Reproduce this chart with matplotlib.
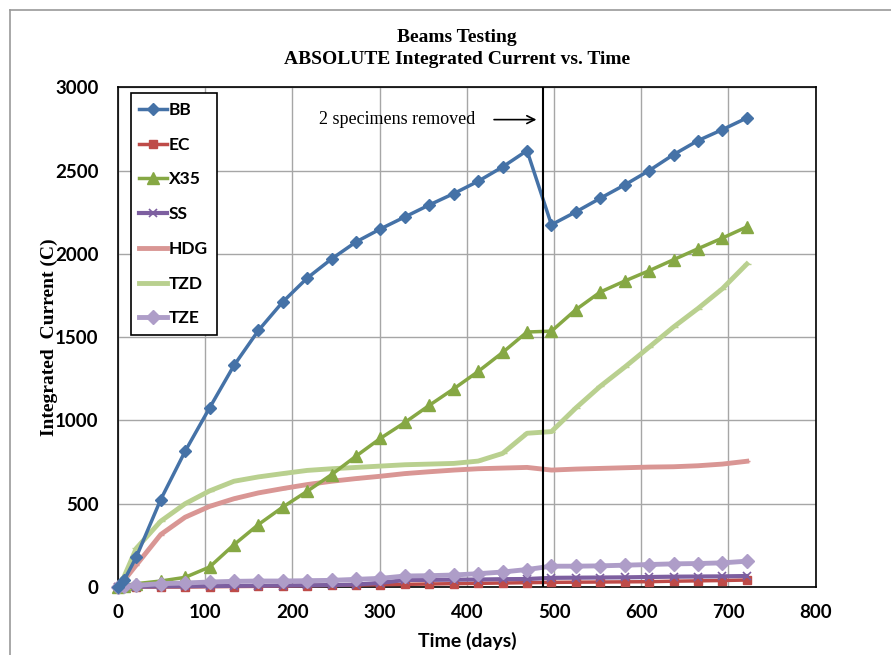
import matplotlib
matplotlib.use('Agg')
import matplotlib.pyplot as plt
from matplotlib.lines import Line2D

# Sampling days (28-day spacing after day 21)
days = [0, 7, 21, 49, 77, 105, 133, 161, 189, 217, 245, 273, 301, 329,
        357, 385, 413, 441, 469, 497, 525, 553, 581, 609, 637, 665, 693, 721]

# Integrated current (C) per series
bb = [0, 40, 180, 525, 815, 1075, 1330, 1540, 1712, 1855, 1970, 2072, 2150, 2222,
      2294, 2362, 2436, 2522, 2620, 2175, 2252, 2334, 2414, 2500, 2596, 2680, 2746, 2816]
ec = [0, 0, 0, 0, 0, 2, 3, 4, 6, 8, 10, 12, 14, 16,
      18, 20, 22, 24, 26, 28, 29, 30, 31, 32, 35, 37, 39, 42]
x35 = [0, 8, 20, 36, 58, 120, 254, 375, 480, 575, 675, 786, 893, 988,
       1091, 1190, 1294, 1408, 1531, 1536, 1665, 1771, 1837, 1899, 1965, 2031, 2095, 2162]
ss = [0, 0, 2, 4, 5, 6, 7, 8, 9, 10, 12, 15, 25, 42,
      43, 44, 45, 47, 48, 55, 56, 57, 58, 60, 62, 63, 64, 66]
hdg = [0, 40, 132, 315, 419, 484, 530, 565, 591, 615, 635, 651, 665, 681,
       692, 702, 710, 714, 718, 702, 708, 712, 716, 720, 722, 728, 738, 755]
tzd = [0, 62, 232, 395, 500, 577, 635, 661, 681, 700, 710, 718, 726, 734,
       738, 742, 756, 802, 923, 933, 1075, 1205, 1320, 1440, 1561, 1672, 1791, 1939]
tze = [0, 5, 10, 20, 24, 30, 34, 36, 36, 38, 40, 46, 52, 66,
       68, 72, 80, 90, 105, 125, 125, 127, 131, 135, 139, 141, 145, 155]

removal_day = 487

serif = 'Liberation Serif'
sans = 'Lato'

fig = plt.figure(figsize=(8.91, 6.55), dpi=100)
ax = fig.add_axes([0.1324, 0.1038, 0.7831, 0.7629])

# outer chart border (left and top only visible)
fig.add_artist(Line2D([9.5 / 891, 9.5 / 891], [0, 1 - 10 / 655], color='#9a9a9a', lw=1.2,
                      transform=fig.transFigure))
fig.add_artist(Line2D([9.5 / 891, 1], [1 - 10 / 655, 1 - 10 / 655], color='#9a9a9a', lw=1.2,
                      transform=fig.transFigure))

# series
ax.plot(days, bb, color='#4572A7', lw=2.5, marker='D', ms=6.5, label='BB', zorder=5, clip_on=False)
ax.plot(days, ec, color='#BE4B48', lw=2.5, marker='s', ms=6, label='EC', zorder=4, clip_on=False)
ax.plot(days, x35, color='#86A844', lw=2.5, marker='^', ms=8, label='X35', zorder=4, clip_on=False)
ax.plot(days, ss, color='#7D5FA0', lw=3, marker='x', ms=6, mew=1.2, label='SS', zorder=4, clip_on=False)
ax.plot(days, hdg, color='#D99694', lw=3.5, marker='_', ms=5, label='HDG', zorder=3, clip_on=False)
ax.plot(days, tzd, color='#B9D08F', lw=3.5, marker='_', ms=6, label='TZD', zorder=3, clip_on=False)
ax.plot(days, tze, color='#AE9DC8', lw=3.5, marker='D', ms=7, label='TZE', zorder=4, clip_on=False)

ax.axvline(removal_day, color='black', lw=1.5, zorder=6)
ax.annotate('', xy=(483, 2806), xytext=(428, 2806),
            arrowprops=dict(arrowstyle='->', color='black', lw=1.2, mutation_scale=14))
ax.text(410, 2806, '2 specimens removed', family=serif, fontsize=13,
        ha='right', va='center')

ax.set_xlim(0, 800)
ax.set_ylim(0, 3000)
ax.set_xticks(range(0, 801, 100))
ax.set_yticks(range(0, 3001, 500))
ax.grid(True, color='#a6a6a6', lw=1)
ax.set_axisbelow(True)
ax.tick_params(length=0)
for lab in ax.get_xticklabels() + ax.get_yticklabels():
    lab.set_family(sans)
    lab.set_fontweight('bold')
    lab.set_fontsize(13.5)
ax.tick_params(axis='x', pad=12)
ax.tick_params(axis='y', pad=14)
for sp in ax.spines.values():
    sp.set_color('black')
    sp.set_linewidth(1.2)

ax.set_xlabel('Time (days)', family=sans, fontweight='bold', fontsize=14, labelpad=8)
ax.set_ylabel('Integrated  Current (C)', family=serif, fontweight='bold', fontsize=14, labelpad=-2)

fig.text(0.513, 1 - 38 / 655, 'Beams Testing', family=serif, fontweight='bold',
         fontsize=14, ha='center', va='center')
fig.text(0.513, 1 - 59 / 655, 'ABSOLUTE Integrated Current vs. Time', family=serif,
         fontweight='bold', fontsize=14, ha='center', va='center')

leg = ax.legend(loc='upper left', bbox_to_anchor=(0.018, 0.988), frameon=True,
                fancybox=False, edgecolor='black', framealpha=1,
                prop={'family': sans, 'weight': 'bold', 'size': 12.5},
                handlelength=1.6, handletextpad=0.1, labelspacing=1.08,
                borderpad=0.5, borderaxespad=0)
leg.get_frame().set_linewidth(1.2)

fig.savefig('out.png', dpi=100)
